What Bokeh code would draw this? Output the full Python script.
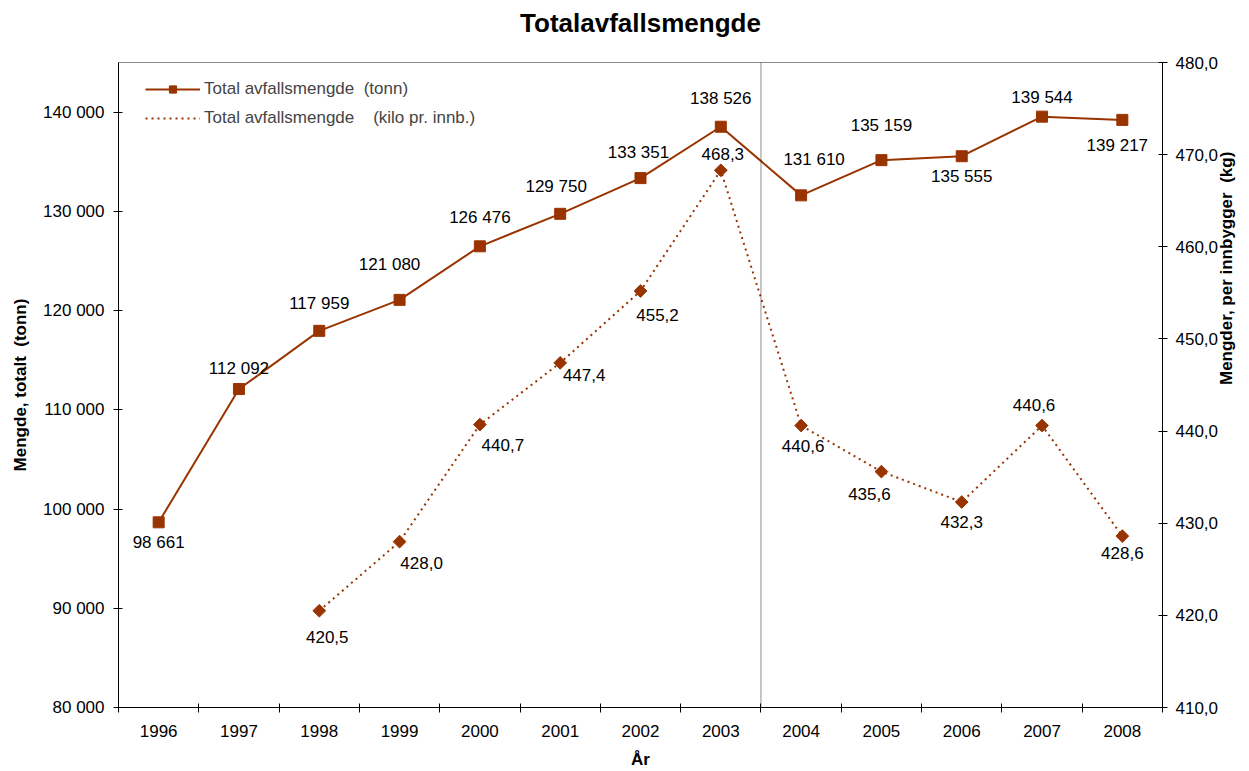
import math
from bokeh.plotting import figure
from bokeh.models import (ColumnDataSource, Range1d, LinearAxis, FixedTicker,
                          CustomJSTickFormatter, LabelSet, Span, Legend, LegendItem, Title)
from bokeh.core.properties import value
from bokeh.embed import file_html
from bokeh.resources import INLINE

# ---------------- data ----------------
years = [1996, 1997, 1998, 1999, 2000, 2001, 2002, 2003, 2004, 2005, 2006, 2007, 2008]
year_labels = ["1996", "1997", "1998", "1999", "2000", "2001", "2002", "2003",
               "2004", "2005", "2006", "2007", "2008"]
tonn = [98661, 112092, 117959, 121080, 126476, 129750, 133351, 138526,
        131610, 135159, 135555, 139544, 139217]
kilo = [None, None, 420.5, 428.0, 440.7, 447.4, 455.2, 468.3,
        440.6, 435.6, 432.3, 440.6, 428.6]
left_ticks = [80000, 90000, 100000, 110000, 120000, 130000, 140000]
right_ticks = [410, 420, 430, 440, 450, 460, 470, 480]

# label placement (screen px; dy positive = up)
tonn_dx = [0, 0, 0, -10, 0, -4, -2, 0, 13, 0, 0, 0, -5]
tonn_dy = [-20, 21, 27, 35, 29, 27, 26, 28, 36, 35, -20, 19, -26]
kilo_dx = [0, 0, 8, 22, 23, 24, 17, 2, 2, -12, 0, -8, 0]
kilo_dy = [0, 0, -26, -21, -20, -12, -24, 16, -20, -22, -20, 21, -17]

COL = "#993300"
FONT = "Liberation Sans"

def fmt_tonn(v):
    return f"{v:,}".replace(",", " ")

def fmt_kilo(v):
    return f"{v:.1f}".replace(".", ",")

tonn_src = ColumnDataSource(dict(
    x=years, y=tonn, t=[fmt_tonn(v) for v in tonn], dx=tonn_dx, dy=tonn_dy))

kx = [y for y, k in zip(years, kilo) if k is not None]
ky = [k for k in kilo if k is not None]
kdx = [d for d, k in zip(kilo_dx, kilo) if k is not None]
kdy = [d for d, k in zip(kilo_dy, kilo) if k is not None]
kilo_src = ColumnDataSource(dict(x=kx, y=ky, t=[fmt_kilo(v) for v in ky], dx=kdx, dy=kdy))

# ---------------- figure ----------------
p = figure(width=1249, height=771,
           x_range=Range1d(1995.5, 2008.5), y_range=Range1d(80000, 145000),
           output_backend="svg", toolbar_location=None,
           min_border_left=118, min_border_right=87, min_border_top=62, min_border_bottom=63,
           x_axis_location=None, y_axis_location=None)
p.extra_y_ranges = {"kg": Range1d(410, 480)}

# spacer panel between the title and the plot frame (lifts the title)
p.add_layout(Title(text=" ", text_font_size="17px", text_font=FONT, standoff=4), "above")
p.title = Title(text="Totalavfallsmengde", align="center", text_font_size="26px",
                text_font=FONT, text_font_style="bold", text_color="black", standoff=0)

p.xgrid.grid_line_color = None
p.ygrid.grid_line_color = None
p.outline_line_color = "#888888"
p.outline_line_width = 1
p.background_fill_color = "white"
p.border_fill_color = "white"

# x axis
xaxis = LinearAxis(ticker=FixedTicker(ticks=years, minor_ticks=[y - 0.5 for y in years] + [years[-1] + 0.5]),
                   major_label_overrides={y: l for y, l in zip(years, year_labels)},
                   axis_label="År")
xaxis.major_tick_out = 0
xaxis.major_tick_in = 0
xaxis.minor_tick_in = 4
xaxis.minor_tick_out = 5
xaxis.minor_tick_line_color = "black"
xaxis.major_label_standoff = 12
xaxis.axis_label_standoff = 10
p.add_layout(xaxis, "below")

# left axis
laxis = LinearAxis(ticker=FixedTicker(ticks=left_ticks, minor_ticks=[]),
                   formatter=CustomJSTickFormatter(code="return tick.toFixed(0).replace(/\\B(?=(\\d{3})+(?!\\d))/g, ' ');"),
                   axis_label="Mengde, totalt\u00a0 (tonn)")
laxis.major_tick_in = 4
laxis.major_tick_out = 5
laxis.major_label_standoff = 9
laxis.axis_label_standoff = 10
p.add_layout(laxis, "left")

# right axis
raxis = LinearAxis(y_range_name="kg", ticker=FixedTicker(ticks=right_ticks, minor_ticks=[]),
                   formatter=CustomJSTickFormatter(code="return tick.toFixed(1).replace('.', ',');"),
                   axis_label="Mengder, per innbygger\u00a0 (kg)")
raxis.major_tick_in = 4
raxis.major_tick_out = 5
raxis.major_label_standoff = 8
raxis.axis_label_standoff = 5
raxis.axis_label_orientation = math.pi / 2
p.add_layout(raxis, "right")

for ax in (xaxis, laxis, raxis):
    ax.axis_line_color = "black"
    ax.axis_line_width = 1
    ax.major_tick_line_color = "black" if ax is not xaxis else None
    ax.major_label_text_font = FONT
    ax.major_label_text_font_size = "17px"
    ax.major_label_text_color = "black"
    ax.axis_label_text_font = FONT
    ax.axis_label_text_font_size = "17px"
    ax.axis_label_text_font_style = "bold"
    ax.axis_label_text_color = "black"

# divider
p.add_layout(Span(location=2003.5, dimension="height", line_color="#222222",
                  line_dash="1 1", line_width=1))

# series
l1 = p.line("x", "y", source=tonn_src, line_color=COL, line_width=2)
m1 = p.scatter("x", "y", source=tonn_src, marker="square", size=11,
               fill_color=COL, line_color=COL)
l2 = p.line("x", "y", source=kilo_src, y_range_name="kg", line_color=COL,
            line_width=2, line_dash="2 4")
m2 = p.scatter("x", "y", source=kilo_src, y_range_name="kg", marker="square", size=9,
               angle=math.pi / 4, fill_color=COL, line_color=COL)
# legend-only diamond glyph (no data drawn)
m2_leg = p.scatter(x=[], y=[], marker="diamond", size=14, fill_color=COL, line_color=COL)

lab_kw = dict(text_font=value(FONT), text_font_size=value("17px"), text_color="black",
              text_align="center", text_baseline="middle")
p.add_layout(LabelSet(x="x", y="y", text="t", source=tonn_src,
                      x_offset="dx", y_offset="dy", **lab_kw))
p.add_layout(LabelSet(x="x", y="y", text="t", source=kilo_src, y_range_name="kg",
                      x_offset="dx", y_offset="dy", **lab_kw))

legend = Legend(items=[
    LegendItem(label="Total avfallsmengde\u00a0 (tonn)", renderers=[l1, m1]),
    LegendItem(label="Total avfallsmengde\u00a0\u00a0\u00a0 (kilo pr. innb.)", renderers=[l2, m2_leg]),
], location=(27, 579), margin=0, padding=0, spacing=9, glyph_width=55, glyph_height=18,
    label_standoff=4, label_text_font=FONT, label_text_font_size="17px",
    background_fill_alpha=0, border_line_color=None)
p.add_layout(legend, "center")

open("out.html", "w").write(file_html(p, INLINE))
